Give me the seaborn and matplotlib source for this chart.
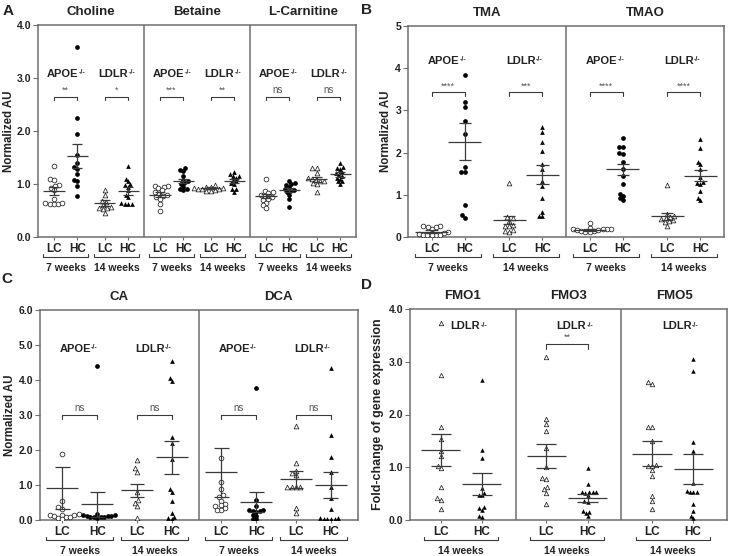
import numpy as np
import pandas as pd
import matplotlib
matplotlib.use("Agg")
import matplotlib.pyplot as plt
import matplotlib.transforms as mtransforms
from matplotlib.ticker import FormatStrFormatter
import seaborn as sns

# group order in every list: LC 7 weeks, HC 7 weeks, LC 14 weeks, HC 14 weeks
# (panel D only has LC / HC at 14 weeks)

# A - choline, betaine, L-carnitine
choline = [
    [1.34, 1.10, 1.08, 0.98, 0.96, 0.93, 0.88, 0.72, 0.64, 0.63, 0.62, 0.63, 0.65],
    [3.58, 2.24, 1.95, 1.55, 1.40, 1.32, 1.28, 1.18, 1.08, 1.05, 0.96, 0.77],
    [0.88, 0.80, 0.68, 0.66, 0.60, 0.57, 0.55, 0.55, 0.52, 0.45],
    [1.34, 1.10, 1.05, 1.00, 0.98, 0.95, 0.88, 0.80, 0.75, 0.65, 0.63, 0.62, 0.62],
]
choline_mean = [0.87, 1.53, 0.64, 0.87]
choline_sem = [0.07, 0.22, 0.05, 0.08]

betaine = [
    [0.97, 0.97, 0.95, 0.92, 0.88, 0.85, 0.82, 0.80, 0.78, 0.75, 0.72, 0.62, 0.50],
    [1.30, 1.27, 1.25, 1.15, 1.08, 1.05, 1.02, 1.00, 0.95, 0.90, 0.88, 0.90],
    [0.98, 0.95, 0.95, 0.93, 0.92, 0.91, 0.90, 0.90, 0.88, 0.87, 0.86],
    [1.22, 1.18, 1.16, 1.15, 1.12, 1.08, 1.05, 1.02, 1.00, 0.90, 0.90, 0.85],
]
betaine_mean = [0.80, 1.05, 0.92, 1.05]
betaine_sem = [0.04, 0.04, 0.015, 0.04]

carnitine = [
    [1.10, 0.87, 0.85, 0.83, 0.80, 0.78, 0.75, 0.72, 0.70, 0.65, 0.60, 0.55],
    [1.05, 1.02, 1.00, 0.98, 0.95, 0.90, 0.88, 0.87, 0.85, 0.80, 0.72, 0.57],
    [1.30, 1.30, 1.20, 1.12, 1.10, 1.08, 1.06, 1.05, 1.02, 1.00, 0.85],
    [1.40, 1.32, 1.30, 1.28, 1.22, 1.20, 1.18, 1.15, 1.12, 1.10, 1.05, 1.00, 1.05],
]
carnitine_mean = [0.78, 0.88, 1.09, 1.18]
carnitine_sem = [0.04, 0.04, 0.05, 0.04]

# B - TMA, TMAO
tma = [
    [0.25, 0.25, 0.24, 0.24, 0.20, 0.12, 0.10, 0.08, 0.05, 0.05, 0.05, 0.04, 0.05],
    [3.84, 3.19, 3.09, 2.74, 2.43, 1.65, 1.53, 1.53, 0.76, 0.52, 0.46],
    [1.28, 0.47, 0.44, 0.38, 0.28, 0.27, 0.25, 0.17, 0.14, 0.12],
    [2.61, 2.49, 2.25, 2.03, 1.72, 1.61, 1.33, 1.20, 0.92, 0.59, 0.50, 0.49],
]
tma_mean = [0.13, 2.26, 0.40, 1.48]
tma_sem = [0.03, 0.44, 0.10, 0.22]

tmao = [
    [0.34, 0.22, 0.20, 0.20, 0.19, 0.18, 0.17, 0.16, 0.15, 0.14, 0.13, 0.12],
    [2.35, 2.14, 2.13, 1.98, 1.97, 1.78, 1.60, 1.45, 1.25, 1.02, 0.97, 0.92, 0.88],
    [1.24, 0.55, 0.50, 0.48, 0.45, 0.42, 0.40, 0.38, 0.35, 0.27],
    [2.32, 2.11, 1.78, 1.72, 1.62, 1.43, 1.30, 1.28, 1.26, 1.09, 0.93, 0.87],
]
tmao_mean = [0.17, 1.60, 0.49, 1.45]
tmao_sem = [0.02, 0.14, 0.09, 0.13]

# C - CA, DCA
ca = [
    [1.90, 0.55, 0.36, 0.32, 0.15, 0.14, 0.12, 0.10, 0.06, 0.03, 0.10, 0.14, 0.16],
    [4.41, 0.18, 0.15, 0.14, 0.12, 0.12, 0.11, 0.10, 0.10, 0.09, 0.08, 0.07],
    [1.72, 1.48, 1.38, 0.80, 0.57, 0.50, 0.40, 0.05],
    [4.55, 4.05, 3.97, 2.38, 2.19, 1.73, 0.88, 0.80, 0.54, 0.21, 0.10, 0.03, 0.05],
]
ca_mean = [0.92, 0.45, 0.85, 1.79]
ca_sem = [0.60, 0.35, 0.18, 0.47]

dca = [
    [1.76, 1.10, 0.88, 0.71, 0.65, 0.55, 0.45, 0.42, 0.40, 0.33, 0.30, 0.30],
    [3.77, 0.57, 0.40, 0.30, 0.28, 0.27, 0.25, 0.24, 0.15, 0.12, 0.02, 0.02],
    [2.70, 1.62, 1.40, 1.35, 1.28, 0.93, 0.93, 0.93, 0.93, 0.33, 0.19],
    [4.35, 2.43, 1.81, 1.37, 0.93, 0.62, 0.32, 0.05, 0.04, 0.04, 0.04, 0.05, 0.04],
]
dca_mean = [1.37, 0.52, 1.16, 1.00]
dca_sem = [0.70, 0.29, 0.24, 0.38]

# D - FMO1, FMO3, FMO5 (LC, HC at 14 weeks)
fmo1 = [
    [3.73, 2.75, 1.77, 1.54, 1.31, 1.22, 1.03, 0.98, 0.63, 0.41, 0.38, 0.20],
    [2.65, 1.33, 1.18, 0.60, 0.52, 0.48, 0.47, 0.24, 0.22, 0.19, 0.08, 0.05],
]
fmo1_mean = [1.33, 0.68]
fmo1_sem = [0.30, 0.21]

fmo3 = [
    [3.09, 1.91, 1.82, 1.69, 1.36, 1.01, 0.80, 0.78, 0.63, 0.58, 0.52, 0.30],
    [0.98, 0.68, 0.54, 0.53, 0.53, 0.53, 0.52, 0.48, 0.36, 0.34, 0.17, 0.15, 0.13, 0.08],
]
fmo3_mean = [1.21, 0.42]
fmo3_sem = [0.23, 0.07]

fmo5 = [
    [2.61, 2.58, 1.77, 1.77, 1.49, 1.05, 1.03, 1.03, 0.95, 0.84, 0.46, 0.36, 0.20],
    [3.06, 2.82, 1.47, 1.31, 0.71, 0.54, 0.54, 0.54, 0.55, 0.30, 0.17, 0.08, 0.03],
]
fmo5_mean = [1.26, 0.97]
fmo5_sem = [0.23, 0.29]

group_labels4 = ["LC", "HC", "LC", "HC"]
week_labels4 = ["7 weeks", "14 weeks"]
geno_labels4 = ["APOE", "LDLR"]

sns.set_style("ticks")
plt.rcParams["font.family"] = ["Liberation Sans", "DejaVu Sans"]

FW, FH = 730, 556
fig = plt.figure(figsize=(FW / 100, FH / 100), dpi=100)
FRAME = "#6e6e6e"
INK = "#222222"
LINE = "#3a3a3a"

OPEN_CIRC = ("o", "white")
FILL_CIRC = ("o", "black")
OPEN_TRI = ("^", "white")
FILL_TRI = ("^", "black")

# swarms are laid out with a smaller marker so they pack tighter (like the
# original, where markers overlap a little); markers get enlarged afterwards
swarm_colls = []


def add_axes_px(left, top, right, bottom):
    return fig.add_axes([left / FW, 1 - bottom / FH, (right - left) / FW, (bottom - top) / FH])


def genotype(ax, x, y, name):
    t = ax.text(x, y, name, ha="center", va="center", fontsize=8,
                fontweight="bold", color=INK)
    ax.annotate("-/-", xy=(1.0, 1.0), xycoords=t, xytext=(0.3, -0.5),
                textcoords="offset points", ha="left", va="top",
                fontsize=5, fontweight="bold", color=INK)


def draw_panel(ax, box, titles, data, means, sems, sigs, pos, styles, labels,
               genos, weeks, ymax, yfmt, geno_y, geno_dx, sig_y, sig_d, mean_hw,
               cap_hw, week_hw, size, ylabel, ylabel_dx, ylabel_fs):
    h_px = box[3] - box[1]
    w_px = box[2] - box[0]
    nsec = len(data)

    rows = []
    for s, sec in enumerate(data):
        for g, vals in enumerate(sec):
            for v in vals:
                rows.append((s + pos[g], g, v))
    df = pd.DataFrame(rows, columns=["x", "grp", "value"])

    for g, (marker, fc) in enumerate(styles):
        sub = df[df["grp"] == g]
        n0 = len(ax.collections)
        sns.swarmplot(data=sub, x="x", y="value", native_scale=True, orient="x",
                      ax=ax, marker=marker, color=fc, edgecolor=INK,
                      linewidth=0.55 if fc == "white" else 0, size=size * 0.72, zorder=3)
        for coll in ax.collections[n0:]:
            swarm_colls.append((coll, (1 / 0.72) ** 2))

    # mean +- SEM
    for s in range(nsec):
        for g in range(len(pos)):
            x = s + pos[g]
            m, e = means[s][g], sems[s][g]
            ax.hlines(m, x - mean_hw, x + mean_hw, color=LINE, lw=0.9, zorder=4)
            ax.vlines(x, m - e, m + e, color=LINE, lw=0.9, zorder=4)
            ax.hlines([m - e, m + e], x - cap_hw, x + cap_hw, color=LINE, lw=0.9, zorder=4)

    # section dividers
    for s in range(1, nsec):
        ax.axvline(s, color=FRAME, lw=1.1, zorder=1)

    ax.set_xlim(0, nsec)
    ax.set_ylim(0, ymax)
    ax.set_yticks(np.arange(0, ymax + 0.01, 1.0))
    ax.yaxis.set_major_formatter(FormatStrFormatter(yfmt))
    xt = [s + p for s in range(nsec) for p in pos]
    ax.set_xticks(xt)
    ax.set_xticklabels(labels * nsec, fontsize=8.5, fontweight="bold", color=INK)
    ax.tick_params(axis="x", length=2.5, width=0.8, color=FRAME, pad=1.5)
    ax.tick_params(axis="y", length=3.5, width=0.8, color=FRAME, pad=1.5,
                   labelsize=7.5, labelcolor=INK)
    for lab in ax.get_yticklabels():
        lab.set_fontweight("bold")
    for sp in ax.spines.values():
        sp.set_visible(True)
        sp.set_color(FRAME)
        sp.set_linewidth(1.1)
    ax.set_xlabel("")
    ax.set_ylabel(ylabel, fontsize=ylabel_fs, fontweight="bold", color=INK)
    ax.yaxis.set_label_coords(-(ylabel_dx - 5) / w_px, 0.5)

    blend = mtransforms.blended_transform_factory(ax.transData, ax.transAxes)
    npair = len(pos) // 2
    for s in range(nsec):
        ax.text(s + 0.5, 1 + 13 / h_px, titles[s], transform=blend, ha="center",
                va="center", fontsize=9.5, fontweight="bold", color=INK)
        for p in range(npair):
            c = s + (pos[2 * p] + pos[2 * p + 1]) / 2
            # time bracket below the axis
            yb = -20 / h_px
            yt = -17 / h_px
            ax.plot([c - week_hw, c - week_hw, c + week_hw, c + week_hw], [yt, yb, yb, yt],
                    transform=blend, clip_on=False, color=LINE, lw=0.8)
            ax.text(c, -31 / h_px, weeks[p], transform=blend, ha="center", va="center",
                    fontsize=7.5, fontweight="bold", color=INK)
            genotype(ax, c + geno_dx - 0.03, geno_y, genos[p])
            # significance bracket
            sig = sigs[s][p]
            if sig:
                x0, x1 = s + pos[2 * p], s + pos[2 * p + 1]
                ax.plot([x0, x0, x1, x1], [sig_y - sig_d, sig_y, sig_y, sig_y - sig_d],
                        color=LINE, lw=0.8)
                ax.text((x0 + x1) / 2, sig_y + sig_d * 0.5, sig, ha="center", va="bottom",
                        fontsize=7 if sig == "ns" else 6.5, color="#555555")


# panel A
box_a = (38, 25, 356, 237)
ax_a = add_axes_px(*box_a)
draw_panel(ax_a, box_a, ["Choline", "Betaine", "L-Carnitine"],
           [choline, betaine, carnitine],
           [choline_mean, betaine_mean, carnitine_mean],
           [choline_sem, betaine_sem, carnitine_sem],
           [["**", "*"], ["***", "**"], ["ns", "ns"]],
           [0.15, 0.37, 0.63, 0.85], [OPEN_CIRC, FILL_CIRC, OPEN_TRI, FILL_TRI],
           group_labels4, geno_labels4, week_labels4, 4.0, "%.1f",
           3.08, 0.0, 2.65, 0.06, 0.10, 0.045, 0.21, 3.4, "Normalized AU", 28, 8.3)

# panel B
box_b = (408, 26, 724, 237)
ax_b = add_axes_px(*box_b)
draw_panel(ax_b, box_b, ["TMA", "TMAO"], [tma, tmao],
           [tma_mean, tmao_mean], [tma_sem, tmao_sem],
           [["****", "***"], ["****", "****"]],
           [0.15, 0.36, 0.64, 0.85], [OPEN_CIRC, FILL_CIRC, OPEN_TRI, FILL_TRI],
           group_labels4, geno_labels4, week_labels4, 5.0, "%d",
           4.18, 0.0, 3.43, 0.08, 0.105, 0.04, 0.21, 3.4, "Normalized AU", 21, 8.3)

# panel C
box_c = (40, 310, 358, 520)
ax_c = add_axes_px(*box_c)
draw_panel(ax_c, box_c, ["CA", "DCA"], [ca, dca],
           [ca_mean, dca_mean], [ca_sem, dca_sem],
           [["ns", "ns"], ["ns", "ns"]],
           [0.14, 0.36, 0.61, 0.83], [OPEN_CIRC, FILL_CIRC, OPEN_TRI, FILL_TRI],
           group_labels4, geno_labels4, week_labels4, 6.0, "%.1f",
           4.9, 0.0, 3.0, 0.1, 0.10, 0.047, 0.21, 3.4, "Normalized AU", 29, 8.3)

# panel D
box_d = (410, 309, 727, 520)
ax_d = add_axes_px(*box_d)
draw_panel(ax_d, box_d, ["FMO1", "FMO3", "FMO5"], [fmo1, fmo3, fmo5],
           [fmo1_mean, fmo3_mean, fmo5_mean], [fmo1_sem, fmo3_sem, fmo5_sem],
           [[None], ["**"], [None]],
           [0.29, 0.68], [OPEN_TRI, FILL_TRI],
           ["LC", "HC"], ["LDLR"], ["14 weeks"], 4.0, "%.1f",
           3.68, 0.07, 3.33, 0.08, 0.185, 0.095, 0.35, 3.2,
           "Fold-change of gene expression", 31, 9.0)

for letter, x, y in [("A", 8, 11), ("B", 366, 10), ("C", 7, 279), ("D", 366, 285)]:
    fig.text(x / FW, 1 - y / FH, letter, ha="center", va="center", fontsize=11,
             fontweight="bold", color=INK)

# first draw fixes the swarm positions; then freeze them and enlarge markers
fig.canvas.draw()
for coll, k in swarm_colls:
    if "draw" in coll.__dict__:
        del coll.draw
    coll.set_sizes(coll.get_sizes() * k)

fig.savefig("out.png", dpi=100)
